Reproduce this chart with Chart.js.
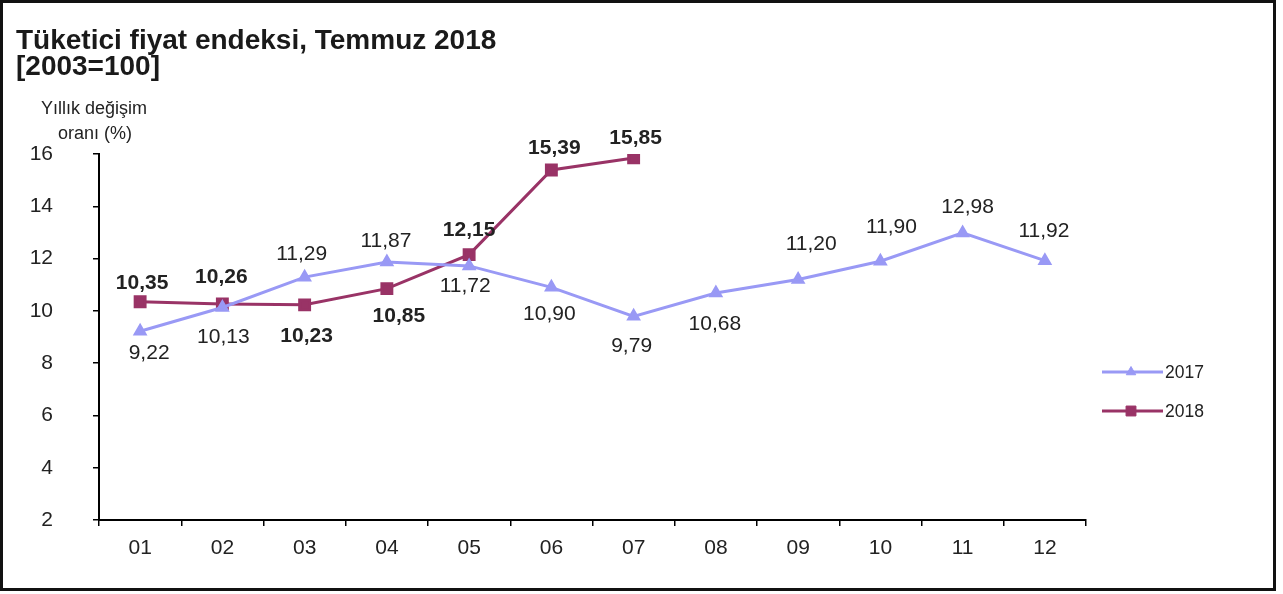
<!DOCTYPE html>
<html>
<head>
<meta charset="utf-8">
<script src="https://cdn.jsdelivr.net/npm/chart.js@4.4.1/dist/chart.umd.min.js"></script>
<style>
    html, body { margin: 0; padding: 0; background: #fff; }
    #wrap { position: relative; width: 1283px; height: 594px; }
    #frame { position: absolute; left: 0; top: 0; width: 1276px; height: 591px; box-sizing: border-box; border: 3px solid #111; pointer-events: none; }
    canvas { position: absolute; left: 0; top: 0; }
</style>
</head>
<body>
<div id="wrap">
    <canvas id="cpiChart" width="1283" height="594"></canvas>
    <div id="frame"></div>
</div>
<script>
const months = ['01', '02', '03', '04', '05', '06', '07', '08', '09', '10', '11', '12']
const cpi2017 = [9.22, 10.13, 11.29, 11.87, 11.72, 10.90, 9.79, 10.68, 11.20, 11.90, 12.98, 11.92]
const cpi2018 = [10.35, 10.26, 10.23, 10.85, 12.15, 15.39, 15.85]
const titleLines = ['Tüketici fiyat endeksi, Temmuz 2018', '[2003=100]']
const yTitleLines = ['Yıllık değişim', 'oranı (%)']

// nudge of each value label from its point, [dx, dy] in px
const shift2017 = [[9, 22], [1, 30], [-3, -23], [-1, -21], [-4, 20], [-2, 27], [-2, 30], [-1, 31], [13, -35], [11, -34], [5, -26], [-1, -29]]
const shift2018 = [[2, -19], [-1, -27], [2, 31], [12, 28], [0, -24], [3, -22], [2, -20]]

const FONT = "'Liberation Sans', Arial, sans-serif"
Chart.defaults.font.family = FONT
Chart.defaults.color = '#222'

function fmt(v) {
    // turkish decimal comma
    return v.toFixed(2).replace('.', ',')
}

const valueLabels = {
    id: 'valueLabels',
    afterDatasetsDraw(chart) {
        const ctx = chart.ctx
        ctx.save()
        ctx.textAlign = 'center'
        ctx.textBaseline = 'middle'
        ctx.fillStyle = '#222'
        chart.data.datasets.forEach((ds, i) => {
            const meta = chart.getDatasetMeta(i)
            ctx.font = ds.labelFont
            meta.data.forEach((pt, j) => {
                const [dx, dy] = ds.labelShift[j]
                ctx.fillText(fmt(ds.data[j]), pt.x + dx, pt.y + dy)
            })
        })
        ctx.restore()
    }
}

const extraText = {
    id: 'extraText',
    afterDraw(chart) {
        const ctx = chart.ctx
        const area = chart.chartArea
        ctx.save()
        // main title
        ctx.fillStyle = '#1a1a1a'
        ctx.textAlign = 'left'
        ctx.textBaseline = 'alphabetic'
        ctx.font = 'bold 28px ' + FONT
        ctx.fillText(titleLines[0], 16, 49)
        ctx.fillText(titleLines[1], 16, 75)
        // y axis caption, sits above the axis
        ctx.font = '18px ' + FONT
        ctx.fillStyle = '#222'
        ctx.textAlign = 'center'
        ctx.fillText(yTitleLines[0], 94, 114)
        ctx.fillText(yTitleLines[1], 95, 139)

        // legend on the right
        chart.data.datasets.forEach((ds, i) => {
            const y = 372 + i * 39
            const x0 = area.right + 16
            ctx.strokeStyle = ds.borderColor
            ctx.lineWidth = ds.borderWidth
            ctx.beginPath()
            ctx.moveTo(x0, y)
            ctx.lineTo(x0 + 61, y)
            ctx.stroke()
            ctx.fillStyle = ds.pointBackgroundColor
            ctx.strokeStyle = ds.pointBorderColor
            ctx.lineWidth = 1
            Chart.helpers.drawPoint(ctx, { pointStyle: ds.pointStyle, radius: ds.pointRadius, rotation: 0, borderWidth: 1 }, x0 + 29, y)
            ctx.fillStyle = '#222'
            ctx.font = '17.5px ' + FONT
            ctx.textAlign = 'left'
            ctx.textBaseline = 'middle'
            ctx.fillText(ds.label, x0 + 63, y + 1)
        })
        ctx.restore()
    }
}

const cpiChart = new Chart(document.getElementById('cpiChart'), {
    type: 'line',
    data: {
        labels: months,
        datasets: [{
            label: '2017',
            data: cpi2017,
            borderColor: '#9999f5',
            borderWidth: 3,
            pointStyle: 'triangle',
            pointRadius: 5.5,
            pointBackgroundColor: '#9999f5',
            pointBorderColor: '#9999f5',
            tension: 0,
            labelFont: '21px ' + FONT,
            labelShift: shift2017
        }, {
            label: '2018',
            data: cpi2018,
            borderColor: '#993366',
            borderWidth: 3,
            pointStyle: 'rect',
            pointRadius: 7,
            pointBackgroundColor: '#993366',
            pointBorderColor: '#993366',
            tension: 0,
            labelFont: 'bold 21px ' + FONT,
            labelShift: shift2018
        }]
    },
    options: {
        responsive: false,
        animation: false,
        layout: { padding: { top: 154, right: 197, left: 0, bottom: 0 } },
        plugins: {
            legend: { display: false },
            title: { display: false },
            tooltip: { enabled: false }
        },
        scales: {
            x: {
                offset: true,
                grid: { offset: true, drawOnChartArea: false, drawTicks: true, tickLength: 6, color: '#000', lineWidth: 1.5 },
                border: { color: '#000', width: 2 },
                ticks: { font: { size: 21 }, color: '#222', padding: 10, maxRotation: 0 },
                afterFit(scale) { scale.height = 74 }
            },
            y: {
                min: 2,
                max: 16,
                ticks: { stepSize: 2, font: { size: 21 }, color: '#222', padding: 40 },
                grid: { drawOnChartArea: false, drawTicks: true, tickLength: 6, color: '#000', lineWidth: 1.5 },
                border: { color: '#000', width: 2 },
                afterFit(scale) { scale.width = 99 }
            }
        }
    },
    plugins: [valueLabels, extraText]
});
</script>
</body>
</html>
